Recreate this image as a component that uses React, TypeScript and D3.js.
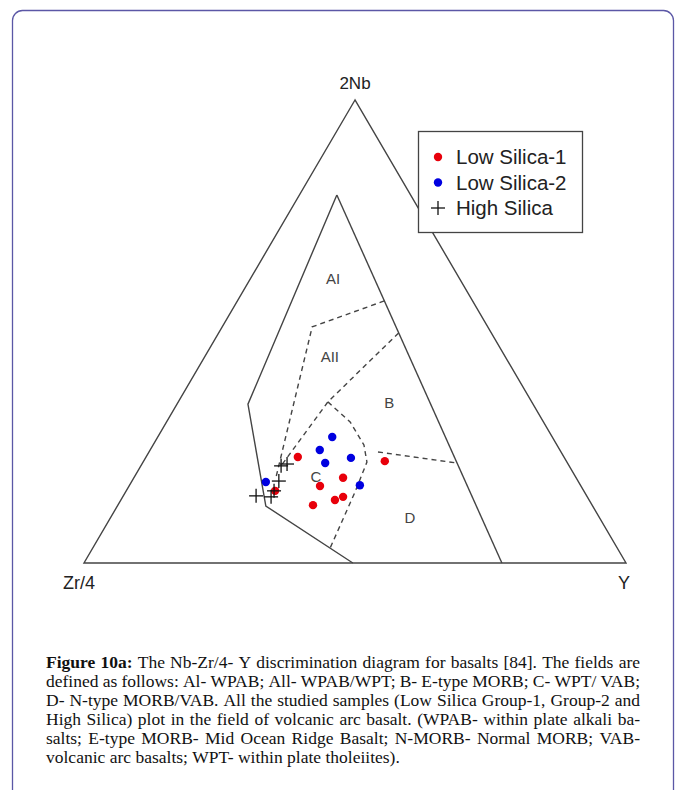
import React, { useEffect, useRef } from "react";
import * as d3 from "d3";

// Ternary values are [2Nb, Zr/4, Y] in percent
const cornerLabels = ["2Nb", "Zr/4", "Y"];

const solidLeft = [[79.5, 13.6, 6.9], [34.3, 52.6, 13.1], [12.3, 60.3, 27.4], [0, 50.4, 49.6]];
const solidRight = [[79.5, 13.6, 6.9], [0, 22.9, 77.1]];
const dashAI = [[56.6, 16.3, 27.1], [51.0, 32.4, 16.6], [18.4, 55.4, 26.2]];
const dashAII = [[49.7, 17.1, 33.2], [34.8, 37.6, 27.6], [21.0, 53.2, 25.9]];
const dashC = [[34.8, 37.6, 27.6], [30.5, 35.7, 33.9], [25.5, 35.6, 38.9], [21.8, 36.9, 41.3], [15.3, 42.3, 42.3], [3.2, 53.0, 43.8]];
const dashBD = [[24.0, 33.8, 42.3], [21.6, 20.4, 58.0]];

const fieldNames = ["AI", "AII", "B", "C", "D"];
const fieldPos = [[61.6, 23.3, 15.2], [44.5, 32.4, 23.1], [34.6, 26.4, 39.0], [18.6, 47.9, 33.5], [9.9, 34.9, 55.2]];

const lowSilica1 = [
  [22.9, 49.1, 28.0], [22.0, 33.5, 44.5], [18.4, 43.0, 38.6], [16.6, 48.1, 35.2],
  [15.6, 57.0, 27.5], [14.3, 45.1, 40.7], [13.6, 46.9, 39.5], [12.5, 51.5, 36.0],
];
const lowSilica2 = [
  [27.2, 40.6, 32.2], [24.4, 44.3, 31.3], [21.6, 44.7, 33.7], [22.7, 39.4, 37.9],
  [17.5, 57.7, 24.8], [16.8, 40.7, 42.5],
];
const highSilica = [
  [21.0, 53.2, 25.9], [21.4, 51.9, 26.8], [17.7, 55.2, 27.1], [14.5, 61.0, 24.5],
  [14.3, 58.4, 27.4], [15.6, 57.2, 27.3],
];

const legendLabels = ["Low Silica-1", "Low Silica-2", "High Silica"];
const seriesColors = ["#e8000b", "#0000e0", "#111111"];

const captionBold = "Figure 10a:";
const captionLines = [
  "Figure 10a: The Nb-Zr/4- Y discrimination diagram for basalts [84]. The fields are",
  "defined as follows: Al- WPAB; All- WPAB/WPT; B- E-type MORB; C- WPT/ VAB;",
  "D- N-type MORB/VAB. All the studied samples (Low Silica Group-1, Group-2 and",
  "High Silica) plot in the field of volcanic arc basalt. (WPAB- within plate alkali ba-",
  "salts; E-type MORB- Mid Ocean Ridge Basalt; N-MORB- Normal MORB; VAB-",
  "volcanic arc basalts; WPT- within plate tholeiites).",
];

const W = 678;
const H = 790;
const hScale = d3.scaleLinear().domain([0, 100]).range([84, 626]);
const vScale = d3.scaleLinear().domain([0, 100]).range([563, 100]);

function proj(t: number[]): [number, number] {
  const s = t[0] + t[1] + t[2];
  const nb = (t[0] / s) * 100;
  const y = (t[2] / s) * 100;
  return [hScale(y + nb / 2), vScale(nb)];
}

const lineGen = d3
  .line<number[]>()
  .x((d) => proj(d)[0])
  .y((d) => proj(d)[1]);

const SANS = "'Liberation Sans', Arial, Helvetica, sans-serif";
const SERIF = "'Liberation Serif', 'Times New Roman', serif";

export default function App() {
  const capRef = useRef<SVGGElement>(null);

  useEffect(() => {
    const g = d3.select(capRef.current);
    g.selectAll("*").remove();
    const x0 = 46;
    const x1 = 640;
    const top = 668;
    const lh = 19;
    const boldWords = captionBold.split(" ");
    captionLines.forEach((line, i) => {
      const words = line.split(" ");
      const y = top + i * lh;
      const nodes = words.map((w, j) =>
        g
          .append("text")
          .attr("y", y)
          .attr("font-family", SERIF)
          .attr("font-size", 17.5)
          .attr("fill", "#111")
          .attr("font-weight", i === 0 && j < boldWords.length ? "bold" : "normal")
          .text(w)
      );
      const widths = nodes.map((n) => (n.node() as SVGTextElement).getComputedTextLength());
      const sum = d3.sum(widths);
      const last = i === captionLines.length - 1;
      const gap = last ? 4.4 : (x1 - x0 - sum) / (words.length - 1);
      let x = x0;
      nodes.forEach((n, j) => {
        n.attr("x", x);
        x += widths[j] + gap;
      });
    });
  }, []);

  const A = proj([100, 0, 0]);
  const L = proj([0, 100, 0]);
  const R = proj([0, 0, 100]);

  const cross = (t: number[], k: number, s = 7) => {
    const [x, y] = proj(t);
    return (
      <g key={k} stroke={seriesColors[2]} strokeWidth={1.3}>
        <line x1={x - s} x2={x + s} y1={y} y2={y} />
        <line x1={x} x2={x} y1={y - s} y2={y + s} />
      </g>
    );
  };

  const lineColor = "#444";

  return (
    <div style={{ position: "absolute", left: 0, top: 0 }}>
      <svg width={W} height={H} style={{ display: "block", background: "#fff" }}>
        <rect x={12.5} y={10.5} width={661} height={820} rx={10} fill="none" stroke="#5b57a6" strokeWidth={1.3} />

        {/* outer triangle */}
        <path
          d={`M${A[0]},${A[1]}L${L[0]},${L[1]}L${R[0]},${R[1]}Z`}
          fill="none"
          stroke={lineColor}
          strokeWidth={1.4}
        />
        <path d={lineGen(solidLeft) || ""} fill="none" stroke={lineColor} strokeWidth={1.4} />
        <path d={lineGen(solidRight) || ""} fill="none" stroke={lineColor} strokeWidth={1.4} />
        {[dashAI, dashAII, dashC, dashBD].map((d, i) => (
          <path key={i} d={lineGen(d) || ""} fill="none" stroke={lineColor} strokeWidth={1.4} strokeDasharray="5,4" />
        ))}

        {fieldNames.map((n, i) => {
          const [x, y] = proj(fieldPos[i]);
          return (
            <text key={n} x={x} y={y} textAnchor="middle" dominantBaseline="central" fontFamily={SANS} fontSize={15} fill="#444">
              {n}
            </text>
          );
        })}

        <text x={A[0]} y={89} textAnchor="middle" fontFamily={SANS} fontSize={17} fill="#222">
          {cornerLabels[0]}
        </text>
        <text x={63} y={589} fontFamily={SANS} fontSize={18} fill="#222">
          {cornerLabels[1]}
        </text>
        <text x={R[0] - 2} y={589} textAnchor="middle" fontFamily={SANS} fontSize={18} fill="#222">
          {cornerLabels[2]}
        </text>

        {lowSilica1.map((t, i) => {
          const [x, y] = proj(t);
          return <circle key={"r" + i} cx={x} cy={y} r={4.2} fill={seriesColors[0]} />;
        })}
        {lowSilica2.map((t, i) => {
          const [x, y] = proj(t);
          return <circle key={"b" + i} cx={x} cy={y} r={4.2} fill={seriesColors[1]} />;
        })}
        {highSilica.map((t, i) => cross(t, i))}

        {/* legend */}
        <rect x={418.5} y={131.5} width={164} height={101} fill="#fff" stroke="#444" strokeWidth={1.3} />
        {legendLabels.map((lab, i) => {
          const cy = 157 + i * 25.5;
          return (
            <g key={lab}>
              {i < 2 ? (
                <circle cx={438} cy={cy} r={4.2} fill={seriesColors[i]} />
              ) : (
                <g stroke="#111" strokeWidth={1.3}>
                  <line x1={431} x2={445} y1={cy} y2={cy} />
                  <line x1={438} x2={438} y1={cy - 7} y2={cy + 7} />
                </g>
              )}
              <text x={456} y={cy + 7} fontFamily={SANS} fontSize={20.5} fill="#222">
                {lab}
              </text>
            </g>
          );
        })}

        <g ref={capRef} />
      </svg>
    </div>
  );
}
